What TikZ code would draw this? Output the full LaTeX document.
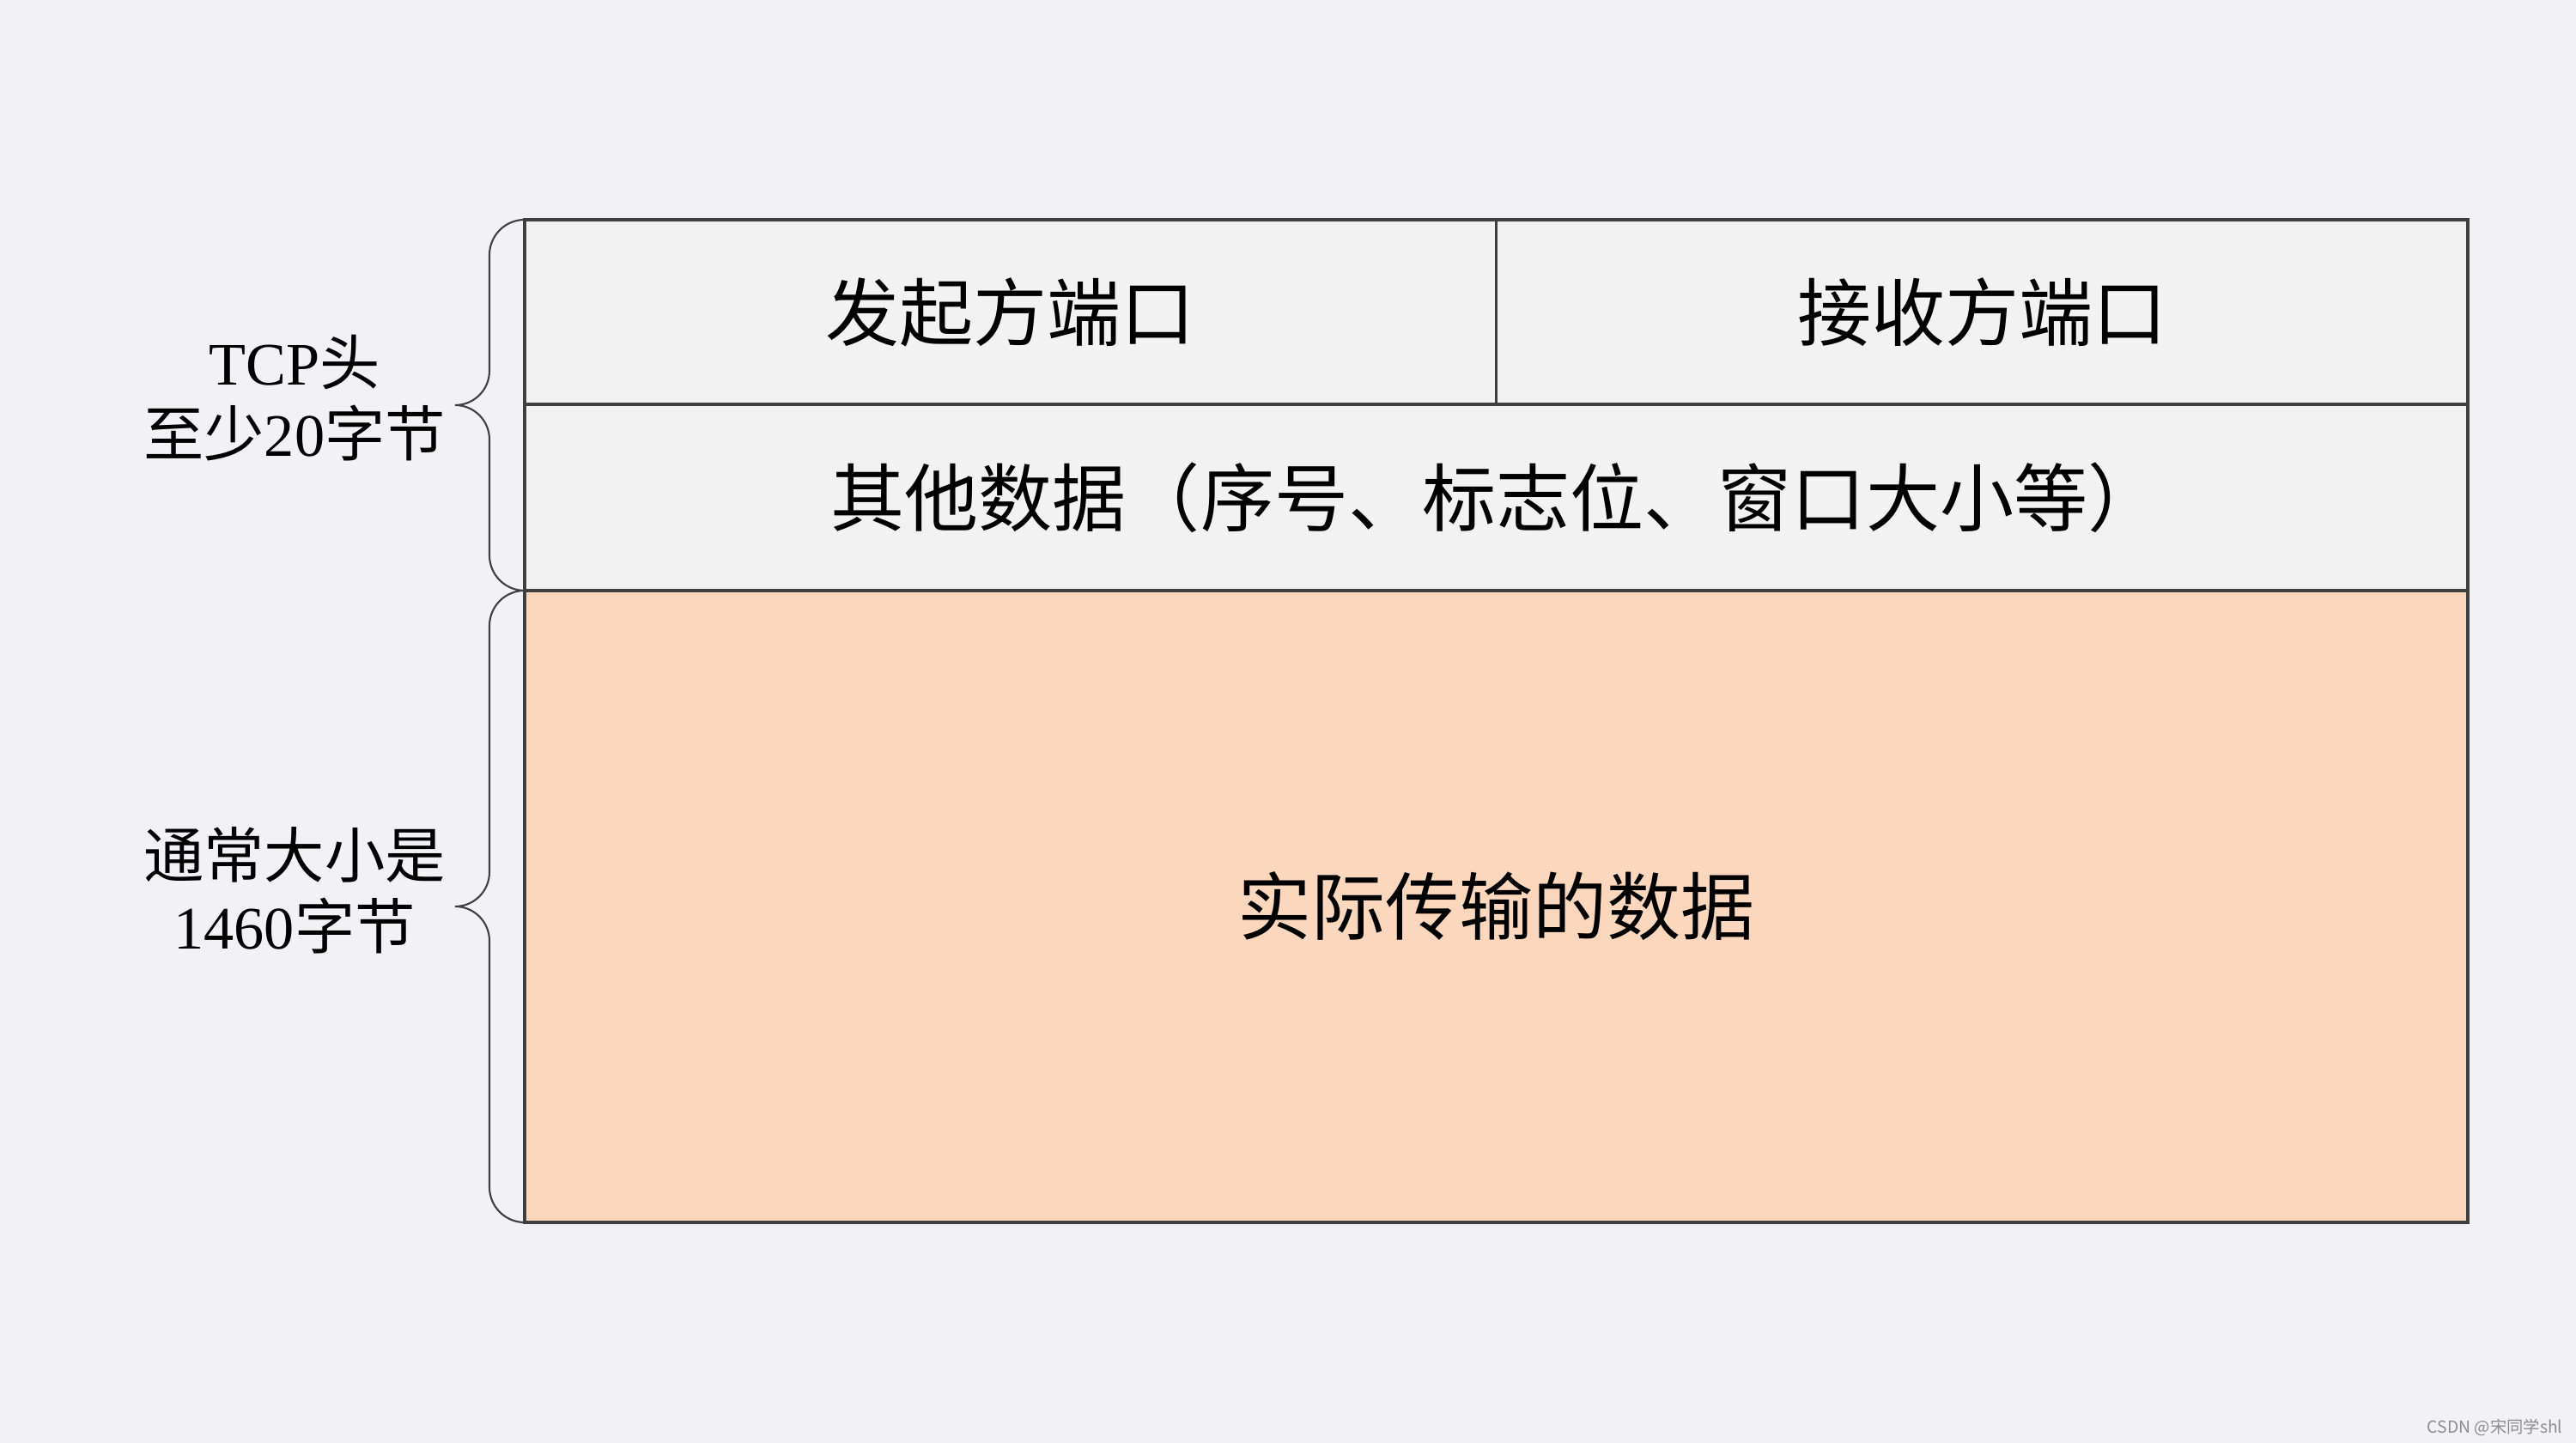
\documentclass[tikz,border=0pt]{standalone}
\usepackage{fontspec}
\setmainfont{Liberation Serif}
\newfontfamily\cjk{Noto Sans CJK SC}
\usetikzlibrary{positioning}
\definecolor{pagebg}{HTML}{F2F1F6}
\definecolor{cellfill}{HTML}{F2F2F2}
\definecolor{datafill}{HTML}{FBD8BD}
\definecolor{edgegray}{HTML}{3F3F3F}
\tikzset{hdrcell/.style={rectangle,draw=edgegray,fill=cellfill,line width=0.9pt,
outer sep=0pt,inner sep=0pt,minimum height=2.15cm, minimum width=11.315cm,
font=\cjk\fontsize{24.5}{29}\selectfont}}
\tikzset{hdrrow/.style={hdrcell,minimum height=2.17cm, minimum width=22.63cm}}
\tikzset{payload/.style={hdrrow,fill=datafill,minimum height=7.36cm}}
\tikzset{sidelabel/.style={align=center,inner sep=0pt,
font=\cjk\fontsize{20}{23.6}\selectfont}}
\tikzset{curlybrace/.style={draw=edgegray,line width=0.6pt}}

\begin{document}
\begin{tikzpicture}

        \fill[pagebg] (0,0) rectangle (30,16.81);
        \useasboundingbox (0,0) rectangle (30,16.81);

        \node[hdrcell, anchor=north west] (srcport) at (6.11, 14.25) {发起方端口};
        \node[hdrcell] (dstport) [right=0pt of srcport] {接收方端口};
        \node[hdrrow] (otherdata) [below=0pt of srcport.south east] {其他数据（序号、标志位、窗口大小等）};
        \node[payload] (userdata) [below=0pt of otherdata] {实际传输的数据};

        % braces on the left side
        \draw[curlybrace] (srcport.north west) arc[start angle=90,end angle=180,radius=0.41]
            -- ++(0,-1.35) arc[start angle=0,end angle=-90,radius=0.4] coordinate (hdrtip)
            arc[start angle=90,end angle=0,radius=0.4] -- ++(0,-1.35)
            arc[start angle=180,end angle=270,radius=0.41];
        \draw[curlybrace] (userdata.north west) arc[start angle=90,end angle=180,radius=0.41]
            -- ++(0,-2.87) arc[start angle=0,end angle=-90,radius=0.4] coordinate (datatip)
            arc[start angle=90,end angle=0,radius=0.4] -- ++(0,-2.87)
            arc[start angle=180,end angle=270,radius=0.41];

        \node[sidelabel] (hdrlabel) at (3.43, 12.17) {\textrm{TCP}头\\至少\textrm{20}字节};
        \node[sidelabel] (datalabel) at (3.43, 6.44) {通常大小是\\\textrm{1460}字节};

        \node[anchor=east, inner sep=0pt, text=black!45, font=\cjk\fontsize{5.5}{6}\selectfont] (mark) at (29.85, 0.18) {CSDN @宋同学shl};

\end{tikzpicture}
\end{document}
